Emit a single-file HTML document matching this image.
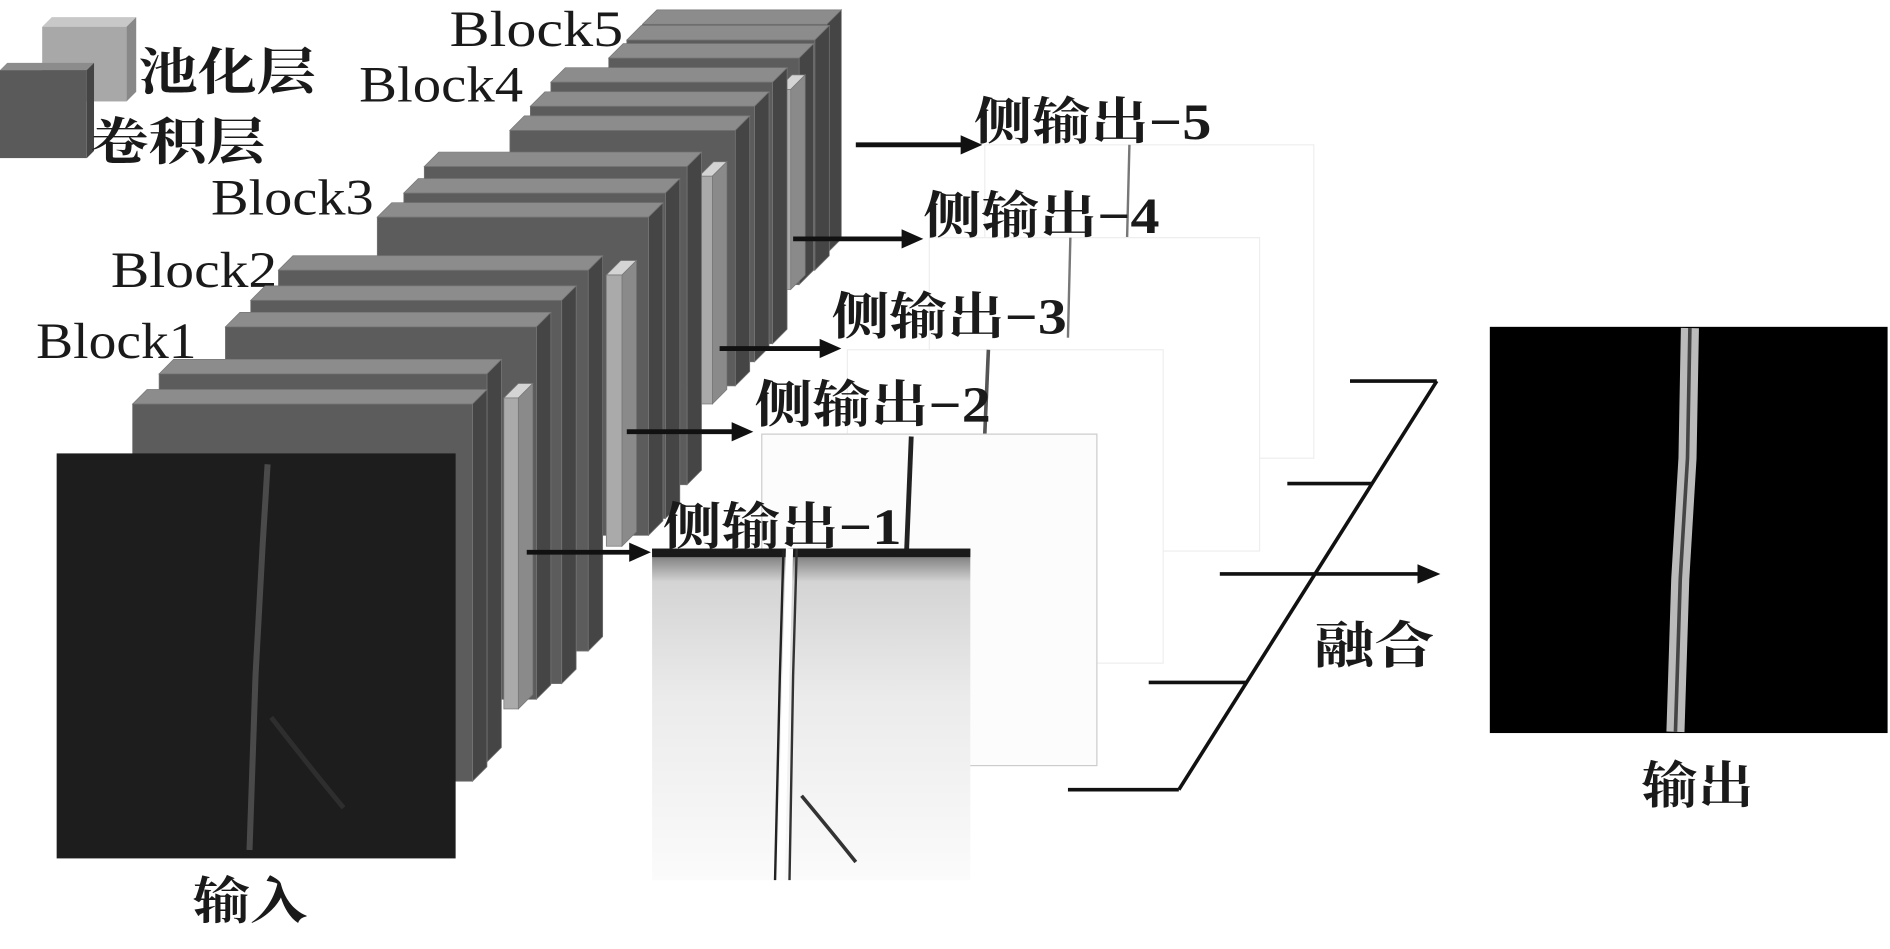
<!DOCTYPE html>
<html><head><meta charset="utf-8"><style>
html,body{margin:0;padding:0;background:#fff;width:1890px;height:949px;overflow:hidden}
svg{display:block}
.s{font-family:"Liberation Serif",serif;font-size:42px;fill:#1a1a1a}
.c{font-family:"Liberation Serif","Noto Serif CJK SC",serif;font-size:42px;fill:#1a1a1a;font-weight:bold}
</style></head><body>
<svg width="1890" height="949" viewBox="0 0 1568 787" xmlns="http://www.w3.org/2000/svg">
<defs>
<linearGradient id="s1" x1="0" y1="0" x2="0" y2="1">
<stop offset="0" stop-color="#111"/><stop offset="0.03" stop-color="#888"/><stop offset="0.1" stop-color="#d4d4d4"/><stop offset="0.45" stop-color="#ebebeb"/><stop offset="1" stop-color="#fbfbfb"/>
</linearGradient>
</defs>

<polygon points="35,22 43,14 113,14 105,22" fill="#c8c8c8"/>
<polygon points="105,22 113,14 113,76 105,84" fill="#888"/>
<rect x="35" y="22" width="70" height="62" fill="#a8a8a8"/>
<polygon points="0,58 6,52 78,52 72,58" fill="#8c8c8c"/>
<polygon points="72,58 78,52 78,125 72,131" fill="#444"/>
<rect x="0" y="58" width="72" height="73" fill="#5a5a5a"/>
<text class="c" x="115" y="74" font-size="44" textLength="147" lengthAdjust="spacingAndGlyphs">池化层</text>
<text class="c" x="75" y="132" font-size="44" textLength="145" lengthAdjust="spacingAndGlyphs">卷积层</text>

<text class="s" x="373" y="38" textLength="144" lengthAdjust="spacingAndGlyphs">Block5</text>
<text class="s" x="298" y="84" textLength="136" lengthAdjust="spacingAndGlyphs">Block4</text>
<text class="s" x="175" y="178" textLength="135" lengthAdjust="spacingAndGlyphs">Block3</text>
<text class="s" x="92" y="238" textLength="138" lengthAdjust="spacingAndGlyphs">Block2</text>
<text class="s" x="30" y="297" textLength="133" lengthAdjust="spacingAndGlyphs">Block1</text>

<g stroke="#777" stroke-width="0.6">
<polygon points="533,20 686,20 698,8 545,8" fill="#8c8c8c"/><polygon points="686,20 698,8 698,198 686,210" fill="#454545"/><rect x="533" y="20" width="153" height="190" fill="#5c5c5c"/>
<polygon points="520,33 676,33 688,21 532,21" fill="#8c8c8c"/><polygon points="676,33 688,21 688,212 676,224" fill="#454545"/><rect x="520" y="33" width="156" height="191" fill="#5c5c5c"/>
<polygon points="505,48 663,48 675,36 517,36" fill="#8c8c8c"/><polygon points="663,48 675,36 675,224 663,236" fill="#454545"/><rect x="505" y="48" width="158" height="188" fill="#5c5c5c"/>
<polygon points="645,74 656,74 668,62 657,62" fill="#d4d4d4"/><polygon points="656,74 668,62 668,228 656,240" fill="#8a8a8a"/><rect x="645" y="74" width="11" height="166" fill="#aaa"/>
<polygon points="457,68 641,68 653,56 469,56" fill="#8c8c8c"/><polygon points="641,68 653,56 653,273 641,285" fill="#454545"/><rect x="457" y="68" width="184" height="217" fill="#5c5c5c"/>
<polygon points="440,88 626,88 638,76 452,76" fill="#8c8c8c"/><polygon points="626,88 638,76 638,288 626,300" fill="#454545"/><rect x="440" y="88" width="186" height="212" fill="#5c5c5c"/>
<polygon points="423,108 610,108 622,96 435,96" fill="#8c8c8c"/><polygon points="610,108 622,96 622,308 610,320" fill="#454545"/><rect x="423" y="108" width="187" height="212" fill="#5c5c5c"/>
<polygon points="580,146 591,146 603,134 592,134" fill="#d4d4d4"/><polygon points="591,146 603,134 603,323 591,335" fill="#8a8a8a"/><rect x="580" y="146" width="11" height="189" fill="#aaa"/>
<polygon points="352,138 570,138 582,126 364,126" fill="#8c8c8c"/><polygon points="570,138 582,126 582,390 570,402" fill="#454545"/><rect x="352" y="138" width="218" height="264" fill="#5c5c5c"/>
<polygon points="335,160 552,160 564,148 347,148" fill="#8c8c8c"/><polygon points="552,160 564,148 564,418 552,430" fill="#454545"/><rect x="335" y="160" width="217" height="270" fill="#5c5c5c"/>
<polygon points="313,180 538,180 550,168 325,168" fill="#8c8c8c"/><polygon points="538,180 550,168 550,432 538,444" fill="#454545"/><rect x="313" y="180" width="225" height="264" fill="#5c5c5c"/>
<polygon points="503,228 516,228 528,216 515,216" fill="#d4d4d4"/><polygon points="516,228 528,216 528,441 516,453" fill="#8a8a8a"/><rect x="503" y="228" width="13" height="225" fill="#aaa"/>
<polygon points="231,224 488,224 500,212 243,212" fill="#8c8c8c"/><polygon points="488,224 500,212 500,528 488,540" fill="#454545"/><rect x="231" y="224" width="257" height="316" fill="#5c5c5c"/>
<polygon points="208,249 466,249 478,237 220,237" fill="#8c8c8c"/><polygon points="466,249 478,237 478,555 466,567" fill="#454545"/><rect x="208" y="249" width="258" height="318" fill="#5c5c5c"/>
<polygon points="187,271 445,271 457,259 199,259" fill="#8c8c8c"/><polygon points="445,271 457,259 457,568 445,580" fill="#454545"/><rect x="187" y="271" width="258" height="309" fill="#5c5c5c"/>
<polygon points="418,330 430,330 442,318 430,318" fill="#d4d4d4"/><polygon points="430,330 442,318 442,576 430,588" fill="#8a8a8a"/><rect x="418" y="330" width="12" height="258" fill="#aaa"/>
<polygon points="132,310 404,310 416,298 144,298" fill="#8c8c8c"/><polygon points="404,310 416,298 416,620 404,632" fill="#454545"/><rect x="132" y="310" width="272" height="322" fill="#5c5c5c"/>
<polygon points="110,335 392,335 404,323 122,323" fill="#8c8c8c"/><polygon points="392,335 404,323 404,636 392,648" fill="#454545"/><rect x="110" y="335" width="282" height="313" fill="#5c5c5c"/>
</g>

<rect x="47" y="376" width="331" height="336" fill="#1d1d1d"/>
<path d="M222,385 L218,450 L212,560 L207,705" stroke="#4a4a4a" stroke-width="5" fill="none"/>
<path d="M225,595 Q260,640 285,670" stroke="#2e2e2e" stroke-width="4" fill="none"/>
<text class="c" x="160" y="762" textLength="95" lengthAdjust="spacingAndGlyphs">输入</text>

<rect x="817" y="120" width="273" height="260" fill="#fff" stroke="#eee"/>
<line x1="937" y1="120" x2="935" y2="200" stroke="#777" stroke-width="2"/>
<rect x="771" y="197" width="274" height="260" fill="#fff" stroke="#eee"/>
<line x1="888" y1="197" x2="886" y2="280" stroke="#777" stroke-width="2"/>
<rect x="703" y="290" width="262" height="260" fill="#fff" stroke="#eee"/>
<line x1="820" y1="290" x2="817" y2="360" stroke="#555" stroke-width="3"/>
<rect x="632" y="360" width="278" height="275" fill="#fcfcfc" stroke="#ccc"/>
<line x1="756" y1="362" x2="752" y2="460" stroke="#222" stroke-width="4"/>
<rect x="541" y="455" width="264" height="275" fill="url(#s1)"/>
<rect x="541" y="455" width="264" height="7" fill="#1a1a1a"/>
<path d="M655,455 L652,560 L648,730" stroke="#fff" stroke-width="6" fill="none"/>
<path d="M650,455 L647,560 L643,730" stroke="#222" stroke-width="2" fill="none"/>
<path d="M661,455 L658,560 L655,730" stroke="#333" stroke-width="2" fill="none"/>
<path d="M665,660 Q690,690 710,715" stroke="#333" stroke-width="3" fill="none"/>

<text class="c" x="808" y="115" textLength="197" lengthAdjust="spacingAndGlyphs">侧输出−5</text>
<text class="c" x="766" y="193" textLength="196" lengthAdjust="spacingAndGlyphs">侧输出−4</text>
<text class="c" x="690" y="277" textLength="195" lengthAdjust="spacingAndGlyphs">侧输出−3</text>
<text class="c" x="626" y="350" textLength="196" lengthAdjust="spacingAndGlyphs">侧输出−2</text>
<text class="c" x="550" y="451" textLength="198" lengthAdjust="spacingAndGlyphs">侧输出−1</text>

<g stroke="#111" stroke-width="4" fill="none">
<line x1="710" y1="120" x2="800" y2="120"/>
<line x1="658" y1="198" x2="752" y2="198"/>
<line x1="597" y1="289" x2="685" y2="289"/>
<line x1="520" y1="358" x2="612" y2="358"/>
<line x1="437" y1="458" x2="527" y2="458"/>
</g>
<g fill="#111">
<polygon points="815,120 797,112 797,128"/>
<polygon points="766,198 748,190 748,206"/>
<polygon points="698,289 680,281 680,297"/>
<polygon points="625,358 607,350 607,366"/>
<polygon points="540,458 522,450 522,466"/>
</g>

<g stroke="#111" stroke-width="3" fill="none">
<line x1="1192" y1="316" x2="978" y2="655"/>
<line x1="1120" y1="316" x2="1192" y2="316"/>
<line x1="1068" y1="401" x2="1139" y2="401"/>
<line x1="1012" y1="476" x2="1178" y2="476"/>
<line x1="953" y1="566" x2="1034" y2="566"/>
<line x1="886" y1="655" x2="978" y2="655"/>
</g>
<polygon points="1195,476 1176,468 1176,484" fill="#111"/>
<text class="c" x="1090" y="550" textLength="100" lengthAdjust="spacingAndGlyphs">融合</text>

<rect x="1236" y="271" width="330" height="337" fill="#000"/>
<path d="M1402,272 L1400,380 L1394,480 L1390,607" stroke="#bbb" stroke-width="15" fill="none"/>
<path d="M1402,272 L1400,380 L1394,480 L1390,607" stroke="#444" stroke-width="3" fill="none"/>
<text class="c" x="1362" y="666" textLength="93" lengthAdjust="spacingAndGlyphs">输出</text>
</svg>
</body></html>
